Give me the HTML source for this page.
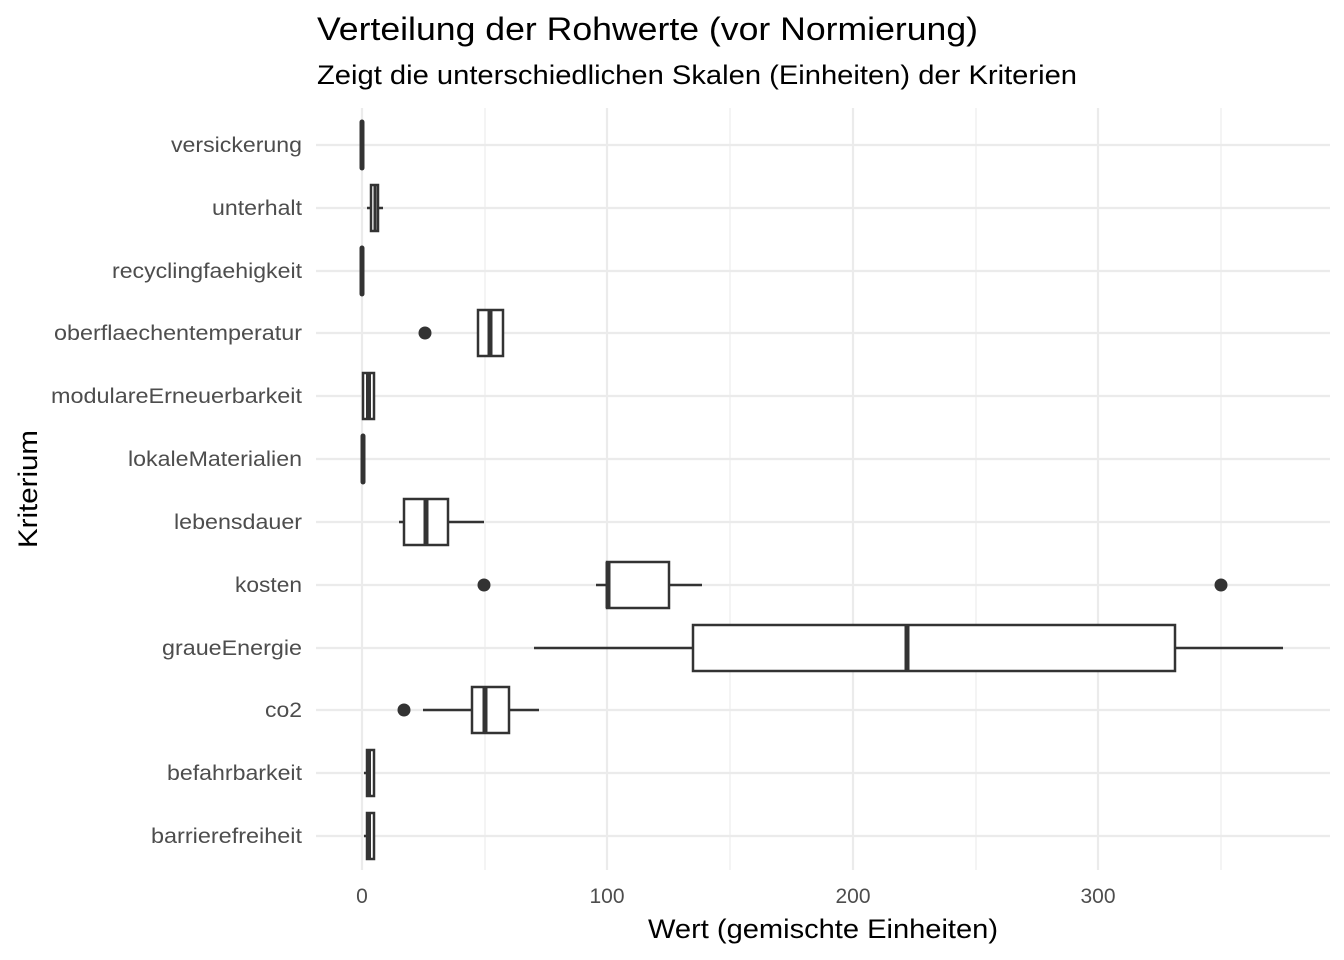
<!DOCTYPE html>
<html><head><meta charset="utf-8"><style>body{margin:0;background:#fff}svg{display:block}</style></head><body>
<svg width="1344" height="960" xmlns="http://www.w3.org/2000/svg" font-family="Liberation Sans, sans-serif">
<rect width="1344" height="960" fill="#fff"/>
<g stroke="#ebebeb" stroke-width="1.1">
<line x1="485" y1="108" x2="485" y2="870"/><line x1="730" y1="108" x2="730" y2="870"/><line x1="976" y1="108" x2="976" y2="870"/><line x1="1221" y1="108" x2="1221" y2="870"/>
</g>
<g stroke="#ebebeb" stroke-width="2.2">
<line x1="362" y1="108" x2="362" y2="870"/><line x1="607" y1="108" x2="607" y2="870"/><line x1="853" y1="108" x2="853" y2="870"/><line x1="1098" y1="108" x2="1098" y2="870"/>
<line x1="316" y1="145" x2="1330" y2="145"/><line x1="316" y1="208" x2="1330" y2="208"/><line x1="316" y1="271" x2="1330" y2="271"/><line x1="316" y1="333" x2="1330" y2="333"/><line x1="316" y1="396" x2="1330" y2="396"/><line x1="316" y1="459" x2="1330" y2="459"/><line x1="316" y1="522" x2="1330" y2="522"/><line x1="316" y1="585" x2="1330" y2="585"/><line x1="316" y1="648" x2="1330" y2="648"/><line x1="316" y1="710" x2="1330" y2="710"/><line x1="316" y1="773" x2="1330" y2="773"/><line x1="316" y1="836" x2="1330" y2="836"/>
</g>
<g stroke="#333" stroke-width="2.5" fill="#fff">
<line x1="362" y1="122" x2="362" y2="168" stroke-width="5" stroke-linecap="round"/>
<line x1="367" y1="208" x2="383" y2="208"/><rect x="371" y="185" width="7" height="46"/><line x1="375" y1="185" x2="375" y2="231" stroke-width="3"/>
<line x1="362" y1="248" x2="362" y2="294" stroke-width="5" stroke-linecap="round"/>
<line x1="477" y1="333" x2="504" y2="333"/><rect x="478" y="310" width="25" height="46"/><line x1="490" y1="310" x2="490" y2="356" stroke-width="5"/>
<circle cx="425" cy="333" r="6.5" fill="#333" stroke="none"/>
<rect x="363" y="373" width="11" height="46"/><line x1="368.5" y1="373" x2="368.5" y2="419" stroke-width="5"/>
<line x1="363" y1="436" x2="363" y2="482" stroke-width="5" stroke-linecap="round"/>
<line x1="399" y1="522" x2="404" y2="522"/><line x1="448" y1="522" x2="484" y2="522"/><rect x="404" y="499" width="44" height="46"/><line x1="426" y1="499" x2="426" y2="545" stroke-width="5"/>
<line x1="596" y1="585" x2="607" y2="585"/><line x1="669" y1="585" x2="702" y2="585"/><rect x="607" y="562" width="62" height="46"/><line x1="608" y1="562" x2="608" y2="608" stroke-width="5"/>
<circle cx="484" cy="585" r="6.5" fill="#333" stroke="none"/><circle cx="1221" cy="585" r="6.5" fill="#333" stroke="none"/>
<line x1="534" y1="648" x2="693" y2="648"/><line x1="1175" y1="648" x2="1283" y2="648"/><rect x="693" y="625" width="482" height="46"/><line x1="907" y1="625" x2="907" y2="671" stroke-width="5"/>
<line x1="423" y1="710" x2="472" y2="710"/><line x1="509" y1="710" x2="539" y2="710"/><rect x="472" y="687" width="37" height="46"/><line x1="485" y1="687" x2="485" y2="733" stroke-width="5"/>
<circle cx="404" cy="710" r="6.5" fill="#333" stroke="none"/>
<line x1="364" y1="773" x2="367" y2="773"/><rect x="367" y="750" width="7" height="46"/><line x1="369" y1="750" x2="369" y2="796" stroke-width="4"/>
<line x1="364" y1="836" x2="367" y2="836"/><rect x="367" y="813" width="7" height="46"/><line x1="369" y1="813" x2="369" y2="859" stroke-width="4"/>
</g>
<g font-size="21" fill="#4d4d4d" text-anchor="end" lengthAdjust="spacingAndGlyphs">
<text x="302" y="152" textLength="131" lengthAdjust="spacingAndGlyphs">versickerung</text>
<text x="302" y="215" textLength="90" lengthAdjust="spacingAndGlyphs">unterhalt</text>
<text x="302" y="278" textLength="190" lengthAdjust="spacingAndGlyphs">recyclingfaehigkeit</text>
<text x="302" y="340" textLength="248" lengthAdjust="spacingAndGlyphs">oberflaechentemperatur</text>
<text x="302" y="403" textLength="251" lengthAdjust="spacingAndGlyphs">modulareErneuerbarkeit</text>
<text x="302" y="466" textLength="174" lengthAdjust="spacingAndGlyphs">lokaleMaterialien</text>
<text x="302" y="529" textLength="128" lengthAdjust="spacingAndGlyphs">lebensdauer</text>
<text x="302" y="592" textLength="67" lengthAdjust="spacingAndGlyphs">kosten</text>
<text x="302" y="655" textLength="140" lengthAdjust="spacingAndGlyphs">graueEnergie</text>
<text x="302" y="717" textLength="37" lengthAdjust="spacingAndGlyphs">co2</text>
<text x="302" y="780" textLength="135" lengthAdjust="spacingAndGlyphs">befahrbarkeit</text>
<text x="302" y="843" textLength="151" lengthAdjust="spacingAndGlyphs">barrierefreiheit</text>
</g>
<g font-size="21" fill="#4d4d4d" text-anchor="middle">
<text x="362" y="903">0</text><text x="607" y="903">100</text><text x="853" y="903">200</text><text x="1098" y="903">300</text>
</g>
<text x="648" y="938" font-size="27" fill="#000" textLength="350" lengthAdjust="spacingAndGlyphs">Wert (gemischte Einheiten)</text>
<text transform="translate(37,548) rotate(-90)" font-size="27" fill="#000" textLength="118" lengthAdjust="spacingAndGlyphs">Kriterium</text>
<text x="317" y="40" font-size="32" fill="#000" textLength="661" lengthAdjust="spacingAndGlyphs">Verteilung der Rohwerte (vor Normierung)</text>
<text x="317" y="84" font-size="27" fill="#000" textLength="760" lengthAdjust="spacingAndGlyphs">Zeigt die unterschiedlichen Skalen (Einheiten) der Kriterien</text>
</svg>
</body></html>
